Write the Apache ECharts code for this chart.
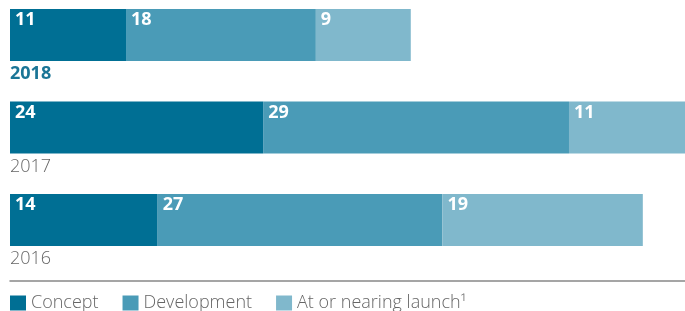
<!DOCTYPE html>
<html>
<head>
    <meta charset="UTF-8">
    <script src="https://cdn.jsdelivr.net/npm/echarts@6/dist/echarts.min.js"></script>
    <style>
        html, body { margin: 0; padding: 0; background: #fff; }
    </style>
</head>
<body>
    <div id="main" style="width: 685px; height: 311px;"></div>
    <script>
        // 数据
        var years = ['2018', '2017', '2016'];
        var seriesNames = ['Concept', 'Development', 'At or nearing launch¹'];
        var concept = [11, 24, 14];
        var development = [18, 29, 27];
        var launch = [9, 11, 19];
        var colors = ['#006f94', '#4a9bb7', '#80b8cc'];

        var myChart = echarts.init(document.getElementById('main'));

        var valueLabel = {
            show: true,
            position: [5, 2],
            color: '#fff',
            fontSize: 18,
            fontWeight: 'bold',
            fontFamily: 'Open Sans'
        };

        function makeSeries(name, data, i) {
            return {
                name: name,
                type: 'bar',
                stack: 'total',
                barWidth: 52,
                itemStyle: { color: colors[i] },
                label: valueLabel,
                emphasis: { disabled: true },
                data: data
            };
        }

        var option = {
            animation: false,
            // 类目轴不留边距，中心点即为网格上下边
            grid: { left: 10, top: 35, width: 675, height: 185 },
            legend: {
                left: 10,
                top: 294,
                padding: 0,
                itemWidth: 16,
                itemHeight: 15,
                itemGap: 24,
                icon: 'rect',
                textStyle: { color: '#666', fontSize: 18, fontWeight: 300, fontFamily: 'Open Sans' },
                data: seriesNames
            },
            xAxis: {
                type: 'value',
                min: 0,
                max: 64,
                offset: 61,
                axisLine: { show: true, lineStyle: { color: '#888', width: 1.5 } },
                axisTick: { show: false },
                axisLabel: { show: false },
                splitLine: { show: false }
            },
            yAxis: {
                type: 'category',
                inverse: true,
                boundaryGap: false,
                data: years,
                axisLine: { show: false },
                axisTick: { show: false },
                axisLabel: {
                    inside: true,
                    margin: 0,
                    verticalAlign: 'top',
                    padding: [30, 0, 0, 0],
                    formatter: function (v, idx) {
                        return idx === 0 ? '{cur|' + v + '}' : '{old|' + v + '}';
                    },
                    rich: {
                        cur: { color: '#1a7596', fontSize: 18, fontWeight: 'bold', fontFamily: 'Open Sans' },
                        old: { color: '#666', fontSize: 18, fontWeight: 300, fontFamily: 'Open Sans' }
                    }
                }
            },
            series: [
                makeSeries(seriesNames[0], concept, 0),
                makeSeries(seriesNames[1], development, 1),
                makeSeries(seriesNames[2], launch, 2)
            ]
        };

        myChart.setOption(option);
    </script>
</body>
</html>
